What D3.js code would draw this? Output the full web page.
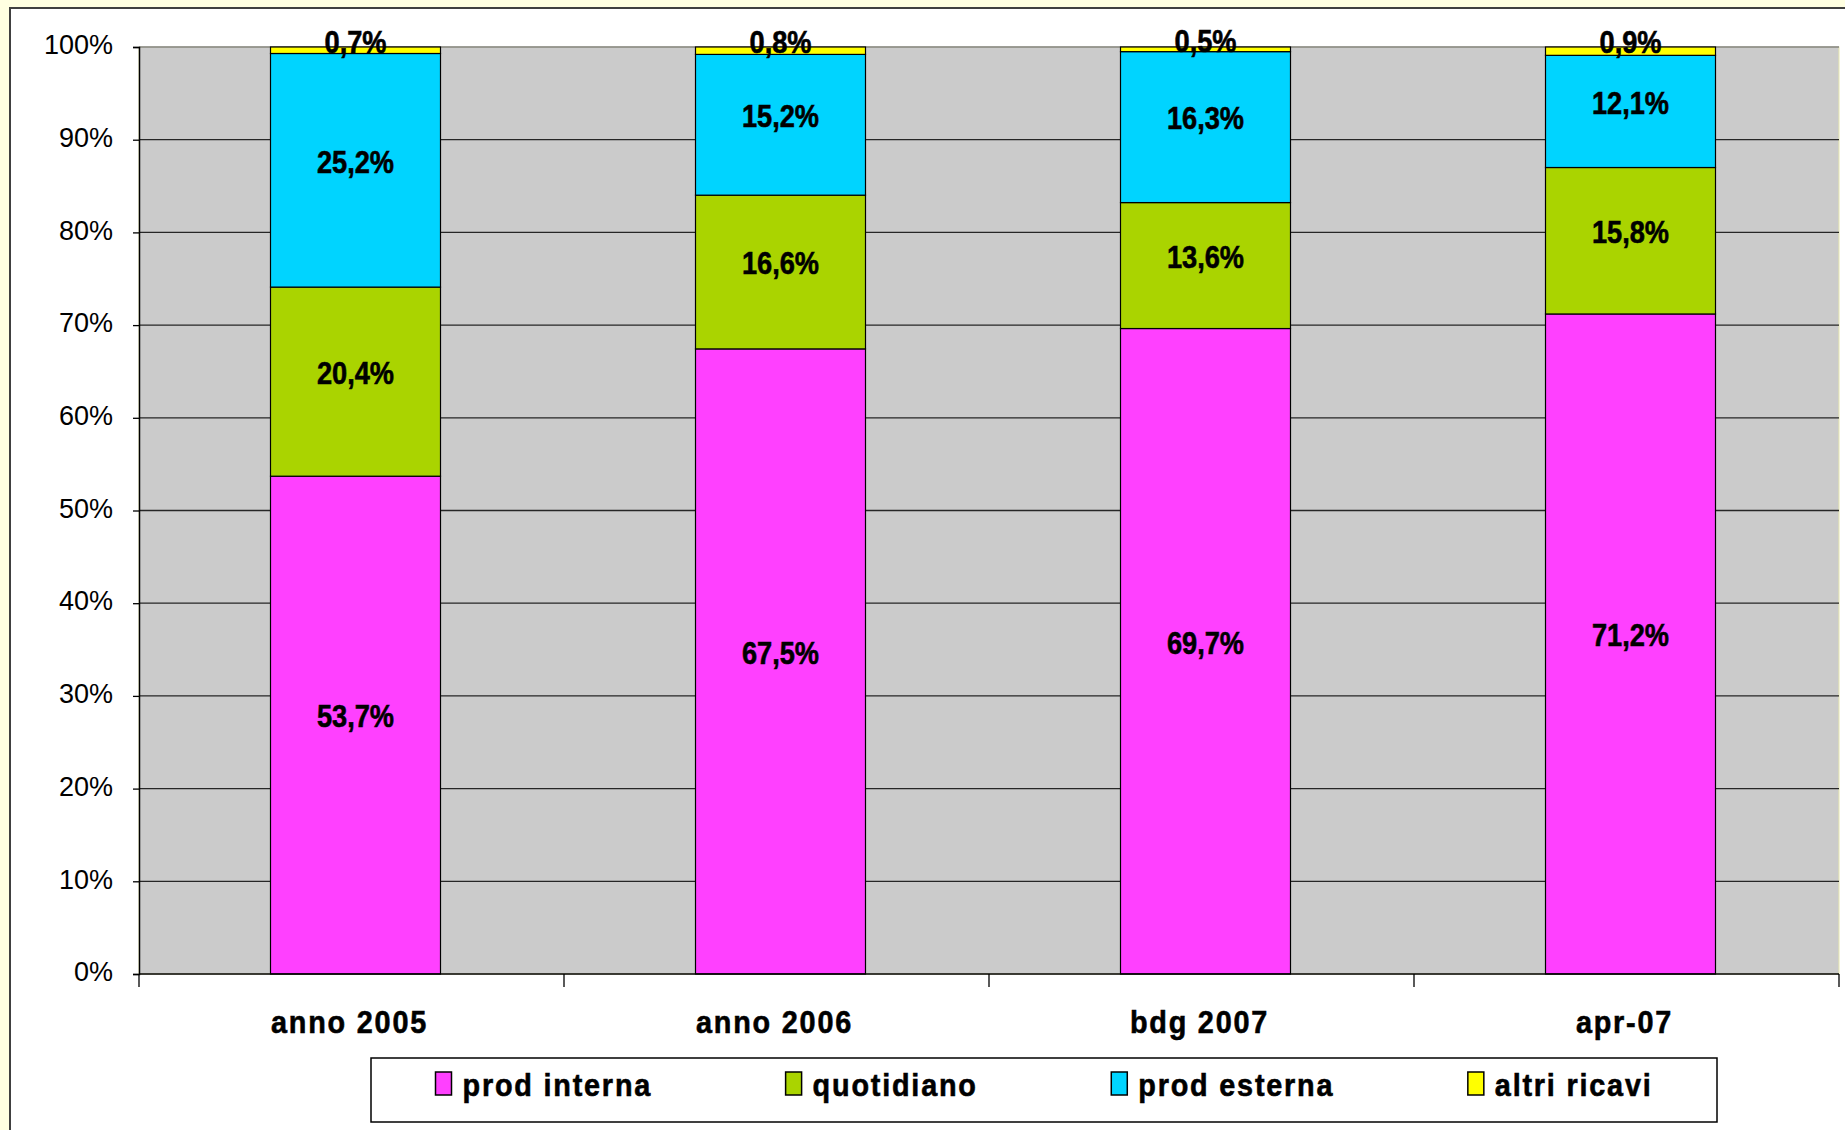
<!DOCTYPE html>
<html><head><meta charset="utf-8">
<script src="https://cdn.jsdelivr.net/npm/d3@7"></script>
<style>
html,body{margin:0;padding:0;background:#FFFFE1;}
svg{display:block;}
</style></head>
<body>
<svg id="chart" width="1845" height="1130"></svg>
<script>
const categories = ["anno 2005", "anno 2006", "bdg 2007", "apr-07"];
const seriesNames = ["prod interna", "quotidiano", "prod esterna", "altri ricavi"];
const prodInterna = [53.7, 67.5, 69.7, 71.2];
const quotidiano  = [20.4, 16.6, 13.6, 15.8];
const prodEsterna = [25.2, 15.2, 16.3, 12.1];
const altriRicavi = [0.7, 0.8, 0.5, 0.9];
const yTickValues = [0, 0.1, 0.2, 0.3, 0.4, 0.5, 0.6, 0.7, 0.8, 0.9, 1.0];
const seriesColors = ["#FF40FF", "#AAD400", "#00D4FF", "#FFFF00"];

const seriesValues = [prodInterna, quotidiano, prodEsterna, altriRicavi];
const rows = categories.map((c, i) => {
  const r = {category: c};
  seriesNames.forEach((s, j) => r[s] = seriesValues[j][i]);
  return r;
});

const svg = d3.select("#chart");
const boldFont = "'Liberation Sans',Arial,sans-serif";
const regular = "'Liberation Sans',Arial,sans-serif";
const SX_LABEL = 0.85; // horizontal condensing of data labels
const SX_TEXT = 0.9;   // horizontal condensing of category / legend text

// chart area
svg.append("rect").attr("x", 10).attr("y", 8).attr("width", 1845).attr("height", 1130)
  .attr("fill", "#FFFFFF").attr("stroke", "#404040").attr("stroke-width", 2);

const plot = {left: 139, right: 1839, top: 47, bottom: 974};
const x = d3.scaleBand().domain(categories).range([plot.left + 4, plot.right + 4])
  .paddingInner(0.6).paddingOuter(0.3);
const y = d3.scaleLinear().domain([0, 1]).range([plot.bottom, plot.top]);

// plot background
svg.append("rect").attr("x", plot.left).attr("y", plot.top)
  .attr("width", plot.right - plot.left).attr("height", plot.bottom - plot.top)
  .attr("fill", "#CBCBCB").attr("stroke", "#E8E8B0").attr("stroke-width", 1);

// gridlines
svg.append("g").selectAll("line").data(yTickValues.slice(1)).join("line")
  .attr("x1", plot.left).attr("x2", plot.right)
  .attr("y1", d => y(d)).attr("y2", d => y(d))
  .attr("stroke", d => d === 1 ? "#808080" : "#262626").attr("stroke-width", 1.3);

// stacked bars
const stack = d3.stack().keys(seriesNames).offset(d3.stackOffsetExpand);
const layers = stack(rows);

const gBars = svg.append("g");
layers.forEach((layer, li) => {
  gBars.append("g").selectAll("rect").data(layer).join("rect")
    .attr("x", d => x(d.data.category))
    .attr("width", x.bandwidth())
    .attr("y", d => y(d[1]))
    .attr("height", d => y(d[0]) - y(d[1]))
    .attr("fill", seriesColors[li])
    .attr("stroke", "#000").attr("stroke-width", 1.2);
});

function condensedText(sel) {
  return sel.attr("font-family", boldFont).attr("font-weight", "bold")
    .attr("font-size", 32).attr("fill", "#000").attr("dominant-baseline", "central")
    .attr("stroke", "#000").attr("stroke-width", 0.6);
}

// data labels
const gLabels = svg.append("g");
layers.forEach((layer, li) => {
  gLabels.append("g").selectAll("g").data(layer).join("g")
    .attr("transform", d => `translate(${x(d.data.category) + x.bandwidth() / 2},${(y(d[0]) + y(d[1])) / 2 - 9}) scale(${SX_LABEL},1)`)
    .append("text")
    .call(condensedText)
    .attr("text-anchor", "middle")
    .text(d => d.data[layer.key].toFixed(1).replace(".", ",") + "%");
});

// y axis
const yAxis = d3.axisLeft(y).tickValues(yTickValues).tickSize(6).tickPadding(20)
  .tickFormat(d => Math.round(d * 100) + "%");
const gy = svg.append("g").attr("transform", `translate(${plot.left},0)`).call(yAxis);
gy.select(".domain").attr("stroke", "#000").attr("stroke-width", 1.5);
gy.selectAll(".tick line").attr("stroke", "#000").attr("stroke-width", 1.3);
gy.selectAll(".tick text").attr("font-family", regular).attr("font-size", 27)
  .attr("fill", "#000").attr("dy", "0.25em");

// x axis
svg.append("line").attr("x1", plot.left).attr("x2", plot.right)
  .attr("y1", plot.bottom).attr("y2", plot.bottom)
  .attr("stroke", "#000").attr("stroke-width", 1.5);
const step = (plot.right - plot.left) / categories.length;
const boundaries = d3.range(categories.length + 1).map(i => plot.left + i * step);
svg.append("g").selectAll("line").data(boundaries).join("line")
  .attr("x1", d => d).attr("x2", d => d)
  .attr("y1", plot.bottom).attr("y2", plot.bottom + 13)
  .attr("stroke", "#000").attr("stroke-width", 1.3);
svg.append("g").selectAll("g").data(categories).join("g")
  .attr("transform", d => `translate(${x(d) + x.bandwidth() / 2 - 6},1021) scale(${SX_TEXT},1)`)
  .append("text")
  .call(condensedText)
  .attr("text-anchor", "middle")
  .attr("letter-spacing", 2)
  .text(d => d);

// legend
const legendBox = {x: 371, y: 1058, w: 1346, h: 64};
svg.append("rect").attr("x", legendBox.x).attr("y", legendBox.y)
  .attr("width", legendBox.w).attr("height", legendBox.h)
  .attr("fill", "#fff").attr("stroke", "#000").attr("stroke-width", 1.5);
const gLeg = svg.append("g");
const items = seriesNames.map((s, i) => {
  const g = gLeg.append("g");
  g.append("rect").attr("x", 0).attr("y", -12).attr("width", 16).attr("height", 23)
    .attr("fill", seriesColors[i]).attr("stroke", "#000").attr("stroke-width", 1.5);
  const t = g.append("g").attr("transform", `translate(27,0) scale(${SX_TEXT},1)`)
    .append("text").call(condensedText)
    .attr("x", 0).attr("y", 0)
    .attr("letter-spacing", 2).text(s);
  return {g, w: 27 + t.node().getComputedTextLength() * SX_TEXT};
});
const totalW = d3.sum(items, d => d.w);
const span = 1217;
const gap = (span - totalW) / (items.length - 1);
let cx = legendBox.x + (legendBox.w - span) / 2;
items.forEach(it => {
  it.g.attr("transform", `translate(${cx},${legendBox.y + legendBox.h / 2 - 6})`);
  cx += it.w + gap;
});
</script>
</body></html>
